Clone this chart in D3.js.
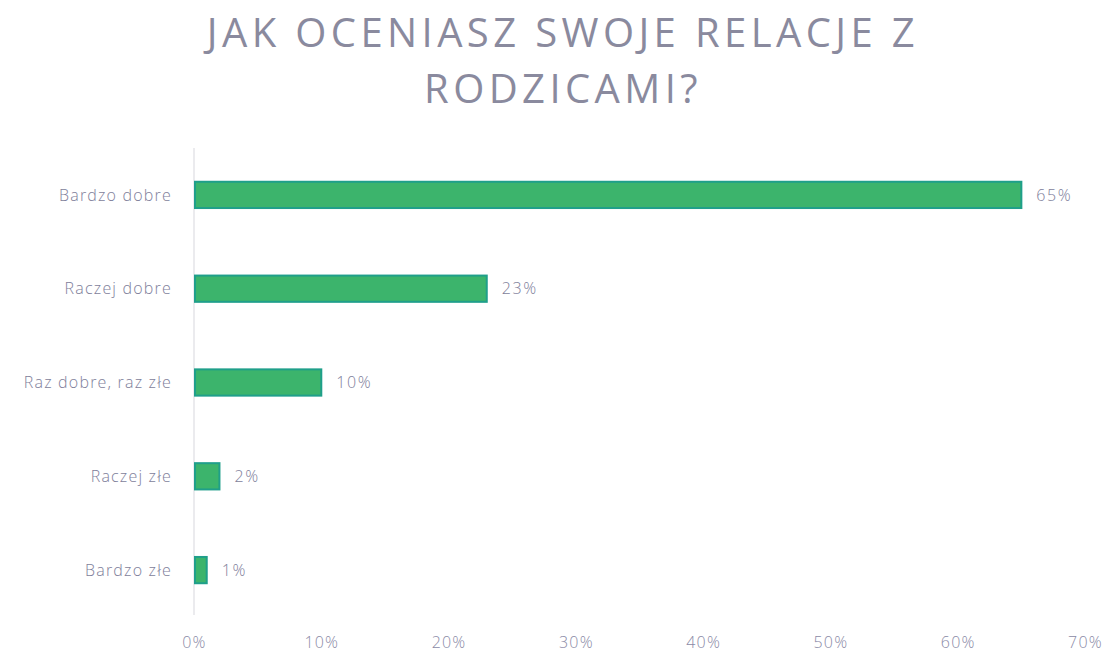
<!DOCTYPE html>
<html>
<head>
<meta charset="utf-8">
<script src="https://cdn.jsdelivr.net/npm/d3@7/dist/d3.min.js"></script>
<style>
  html, body { margin: 0; padding: 0; background: #ffffff; }
  svg { display: block; }
</style>
</head>
<body>
<svg id="chart" width="1109" height="657"></svg>
<script>
// Survey answers: "How do you rate your relations with your parents?"
const titleLines = ["JAK OCENIASZ SWOJE RELACJE Z", "RODZICAMI?"];
const categories = ["Bardzo dobre", "Raczej dobre", "Raz dobre, raz złe", "Raczej złe", "Bardzo złe"];
const values = [65, 23, 10, 2, 1];
const tickValues = [0, 10, 20, 30, 40, 50, 60, 70];

const svg = d3.select("#chart");
const textColor = "#7e7e9a";

// Title
svg.selectAll("text.title")
  .data(titleLines)
  .join("text")
  .attr("class", "title")
  .attr("x", 563)
  .attr("y", (d, i) => 47 + i * 56)
  .attr("text-anchor", "middle")
  .attr("font-family", "'Open Sans', sans-serif")
  .attr("font-size", 40)
  .attr("letter-spacing", "4.4px")
  .attr("fill", "#8a8a9e")
  .text(d => d);

const x = d3.scaleLinear().domain([0, 70]).range([194, 1085]);
const y = d3.scaleBand().domain(categories).range([148, 617]).paddingInner(0.72).paddingOuter(0.36);

// Vertical category axis line
svg.append("line")
  .attr("x1", x(0)).attr("x2", x(0))
  .attr("y1", 148).attr("y2", 615)
  .attr("stroke", "#e4e4e8")
  .attr("stroke-width", 1.5);

// Bars
svg.selectAll("rect.bar")
  .data(categories)
  .join("rect")
  .attr("class", "bar")
  .attr("x", x(0) + 1)
  .attr("y", d => y(d))
  .attr("width", (d, i) => x(values[i]) - x(0) - 1)
  .attr("height", y.bandwidth())
  .attr("fill", "#3cb46c")
  .attr("stroke", "#1f9f8a")
  .attr("stroke-width", 2);

// Category labels
svg.selectAll("text.cat")
  .data(categories)
  .join("text")
  .attr("class", "cat")
  .attr("x", 172)
  .attr("y", d => y(d) + y.bandwidth() / 2)
  .attr("dy", "0.35em")
  .attr("text-anchor", "end")
  .attr("font-family", "'Open Sans', sans-serif")
  .attr("font-weight", 300)
  .attr("font-size", 16)
  .attr("letter-spacing", "1.2px")
  .attr("fill", textColor)
  .text(d => d);

// Value labels
svg.selectAll("text.val")
  .data(categories)
  .join("text")
  .attr("class", "val")
  .attr("x", (d, i) => x(values[i]) + 15)
  .attr("y", d => y(d) + y.bandwidth() / 2)
  .attr("dy", "0.35em")
  .attr("font-family", "'Open Sans', sans-serif")
  .attr("font-weight", 300)
  .attr("font-size", 16)
  .attr("letter-spacing", "1.6px")
  .attr("fill", textColor)
  .text((d, i) => values[i] + "%");

// Horizontal value axis (labels only)
const xAxis = d3.axisBottom(x)
  .tickValues(tickValues)
  .tickFormat(d => d + "%")
  .tickSize(0)
  .tickPadding(0);

const gx = svg.append("g")
  .attr("transform", "translate(0,637)")
  .call(xAxis);
gx.select(".domain").remove();
gx.selectAll("text")
  .attr("font-family", "'Open Sans', sans-serif")
  .attr("font-weight", 300)
  .attr("font-size", 16)
  .attr("letter-spacing", "1.2px")
  .attr("fill", "#8a8aa6");
</script>
</body>
</html>
